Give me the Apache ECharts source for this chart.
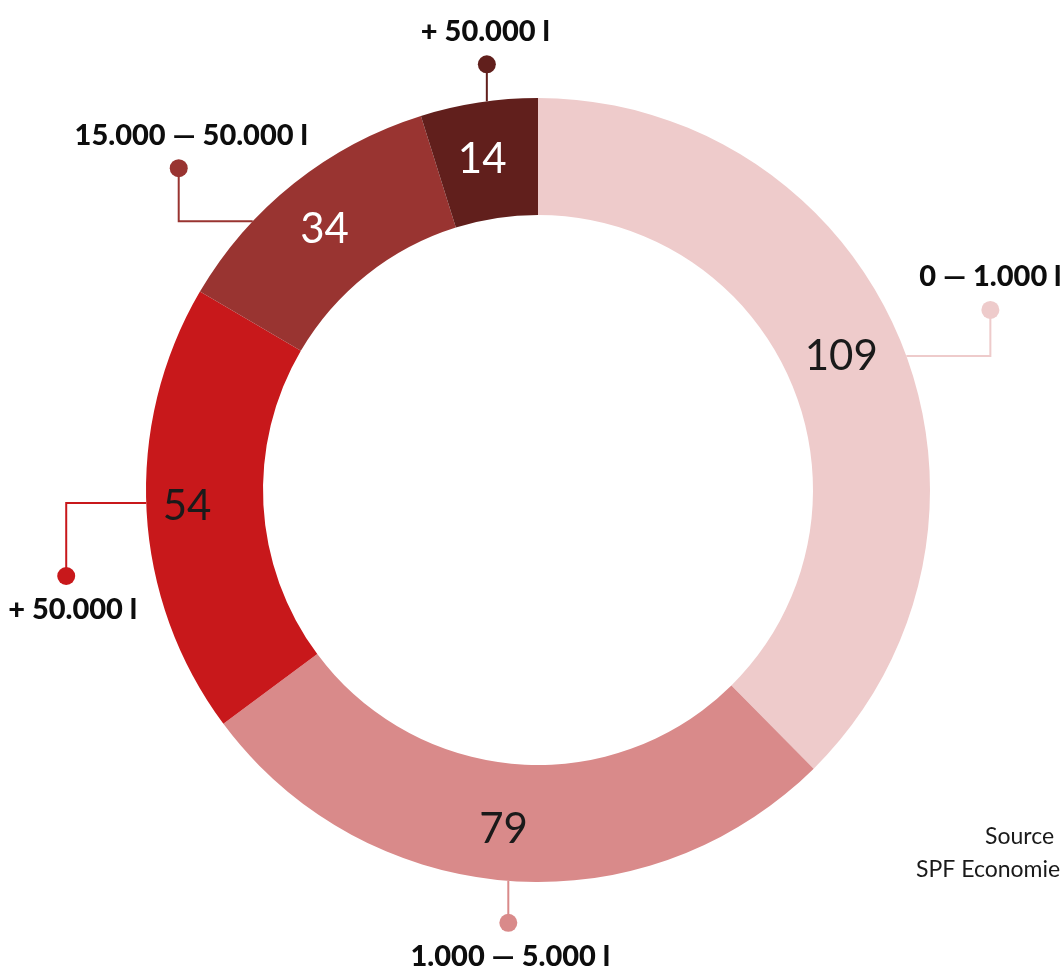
<!DOCTYPE html>
<html>
<head>
<meta charset="utf-8">
<script src="https://cdn.jsdelivr.net/npm/echarts@6/dist/echarts.min.js"></script>
<style>
  html, body { margin: 0; padding: 0; background: #fff; }
  #chart { width: 1060px; height: 974px; }
</style>
</head>
<body>
<div id="chart"></div>
<script>
// data
const categories = ["0 — 1.000 l", "1.000 — 5.000 l", "+ 50.000 l", "15.000 — 50.000 l", "+ 50.000 l"];
const values = [109, 79, 54, 34, 14];
const sourceLines = ["Source", "SPF Economie"];

// styles
const colors = ["#eecbcb", "#d98a8a", "#c8181b", "#993431", "#611f1c"];
const valueColors = ["#1a1a1a", "#1a1a1a", "#1a1a1a", "#ffffff", "#ffffff"];
// small nudges of the value labels inside the ring
const valueNudge = [[-8, -6], [-9, 4], [-15, -2], [-4, 3], [-5, 2]];
// callouts: angle where the line leaves the ring (null = middle of slice),
// horizontal run, vertical rise to the dot, label side, text padding
const callouts = [
  { angle: 70, run: 84, rise: -46, side: "top", pad: [0, 0, 0, 0] },
  { angle: null, run: 0, rise: 42, side: "bottom", pad: [0, 0, 0, 4] },
  { angle: 268.1, run: -80, rise: 73, side: "bottom", pad: [0, 0, 0, 13] },
  { angle: 313.3, run: -74, rise: -53, side: "top", pad: [0, 0, 0, 25] },
  { angle: 352.5, run: 0, rise: -37, side: "top", pad: [0, 3, 0, 0] }
];

const cx = 538, cy = 490, rIn = 275, rOut = 392;

const total = values.reduce((a, b) => a + b, 0);
let acc = 0;
const midAngles = values.map(v => {
  const m = (acc + v / 2) / total * 360;
  acc += v;
  return m;
});

function edgePoint(deg) {
  const a = deg * Math.PI / 180;
  return [cx + rOut * Math.sin(a), cy - rOut * Math.cos(a)];
}

const rich = {};
categories.forEach((c, i) => {
  rich["t" + i] = {
    fontFamily: "Lato",
    fontWeight: 900,
    fontSize: 29,
    color: "#0d0d0d",
    lineHeight: callouts[i].side === "top" ? 48 : 50,
    padding: callouts[i].pad
  };
  rich["d" + i] = {
    width: 18,
    height: 18,
    lineHeight: 18,
    borderRadius: 9,
    backgroundColor: colors[i]
  };
});

const ringData = values.map((v, i) => ({
  name: categories[i],
  value: v,
  itemStyle: { color: colors[i] },
  label: { color: valueColors[i] }
}));

const calloutData = values.map((v, i) => ({
  name: categories[i],
  value: v,
  labelLine: { lineStyle: { color: colors[i], width: 2 } }
}));

let chart = echarts.init(document.getElementById("chart"));
chart.setOption({
  backgroundColor: "#fff",
  animation: false,
  series: [
    {
      type: "pie",
      silent: true,
      center: [cx, cy],
      radius: [rIn, rOut],
      startAngle: 90,
      clockwise: true,
      avoidLabelOverlap: false,
      itemStyle: { color: "rgba(0,0,0,0)", borderWidth: 0 },
      label: {
        show: true,
        position: "outside",
        formatter: p => {
          const i = p.dataIndex;
          return callouts[i].side === "top"
            ? "{t" + i + "|" + p.name + "}\n{d" + i + "|}"
            : "{d" + i + "|}\n{t" + i + "|" + p.name + "}";
        },
        rich: rich
      },
      labelLine: { show: true, smooth: false },
      labelLayout: params => {
        const i = params.dataIndex;
        const c = callouts[i];
        const start = edgePoint(c.angle == null ? midAngles[i] : c.angle);
        const elbow = [start[0] + c.run, start[1]];
        const dot = [elbow[0], elbow[1] + c.rise];
        return {
          x: dot[0],
          y: c.side === "top" ? dot[1] + 9 : dot[1] - 9,
          align: "center",
          verticalAlign: c.side === "top" ? "bottom" : "top",
          labelLinePoints: [start, elbow, dot]
        };
      },
      data: calloutData
    },
    {
      type: "pie",
      silent: true,
      center: [cx, cy],
      radius: [rIn, rOut],
      startAngle: 90,
      clockwise: true,
      avoidLabelOverlap: false,
      itemStyle: { borderWidth: 0 },
      label: {
        show: true,
        position: "inside",
        formatter: "{c}",
        fontFamily: "Lato",
        fontSize: 42,
        fontWeight: "normal"
      },
      labelLine: { show: false },
      labelLayout: params => ({
        dx: valueNudge[params.dataIndex][0],
        dy: valueNudge[params.dataIndex][1]
      }),
      data: ringData
    }
  ],
  graphic: [
    {
      type: "text",
      left: 985,
      top: 825,
      style: { text: sourceLines[0], font: "23px Lato", fill: "#1a1a1a" }
    },
    {
      type: "text",
      left: 916,
      top: 858,
      style: { text: sourceLines[1], font: "23px Lato", fill: "#1a1a1a" }
    }
  ]
});

window.addEventListener("resize", () => {
  chart.resize();
});
</script>
</body>
</html>
